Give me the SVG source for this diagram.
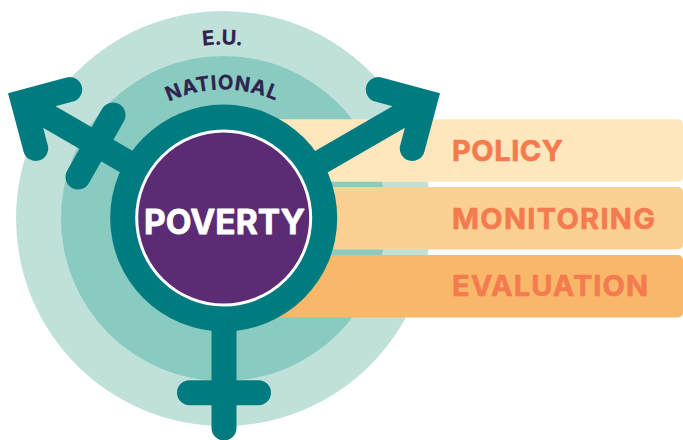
<svg xmlns="http://www.w3.org/2000/svg" width="683" height="440" viewBox="0 0 683 440">
  <style>
    .sym { fill: none; stroke: #007b80; stroke-width: 25; stroke-linecap: round; stroke-linejoin: miter; stroke-miterlimit: 4; }
    .band { font-family: Inter, "Noto Sans", sans-serif; font-weight: 700; font-size: 29px; fill: #f47b50; stroke: #f47b50; stroke-width: 0.6; stroke-linejoin: round; }
    .arc { font-family: Inter, "Noto Sans", sans-serif; font-weight: 700; fill: #2f2350; stroke: #2f2350; stroke-width: 0.3; stroke-linejoin: round; }
  </style>
  <defs>
    <path id="arcEU" d="M 50 218 A 173.500 173.500 0 0 1 397 218"/>
    <path id="arcNat" d="M 95 218 A 128.500 128.500 0 0 1 352 218"/>
  </defs>
  <g id="scope-eu">
    <circle cx="223.500" cy="218.500" r="207.500" fill="#c0e1d9"/>
    <text class="arc" font-size="20" text-anchor="middle" dx="-1"><textPath href="#arcEU" startOffset="50%">E.U.</textPath></text>
  </g>
  <g id="scope-national">
    <circle cx="223.500" cy="218.500" r="162.500" fill="#89cbc0"/>
    <text class="arc" font-size="20" text-anchor="middle" dx="-1" letter-spacing="0.800"><textPath href="#arcNat" startOffset="50%">NATIONAL</textPath></text>
  </g>
  <g id="band-policy">
    <rect x="223" y="119.300" width="460" height="62.400" rx="5" fill="#fee7bd"/>
    <text class="band" x="452" y="160.500" textLength="111" lengthAdjust="spacing">POLICY</text>
  </g>
  <g id="band-monitoring">
    <rect x="223" y="187" width="460" height="62.500" rx="5" fill="#fbd193"/>
    <text class="band" x="452" y="228.500" textLength="203" lengthAdjust="spacing">MONITORING</text>
  </g>
  <g id="band-evaluation">
    <rect x="223" y="255" width="460" height="62.500" rx="5" fill="#f9b76a"/>
    <text class="band" x="452" y="296" textLength="196" lengthAdjust="spacing">EVALUATION</text>
  </g>
  <g id="connectors">
    <path class="sym" d="M224 218 L424.700 102 M378.300 89.500 L424.700 102 L412.300 148.400"/>
    <path class="sym" d="M224 218 L23.300 102 M69.700 89.500 L23.300 102 L35.700 148.400"/>
    <path class="sym" d="M113 115 L78 177"/>
    <path class="sym" d="M224 218 V428 M189.500 392.700 H258.500"/>
  </g>
  <g id="poverty">
    <circle cx="223.700" cy="218" r="113.500" fill="#007b80"/>
    <circle cx="223.700" cy="218" r="87" fill="#5b2c73" stroke="#ffffff" stroke-width="3"/>
    <text x="144" y="234" textLength="161" lengthAdjust="spacing" font-family="Inter, Noto Sans, sans-serif" font-weight="700" font-size="33.500" fill="#ffffff" stroke="#ffffff" stroke-width="0.8" stroke-linejoin="round">POVERTY</text>
  </g>
</svg>
